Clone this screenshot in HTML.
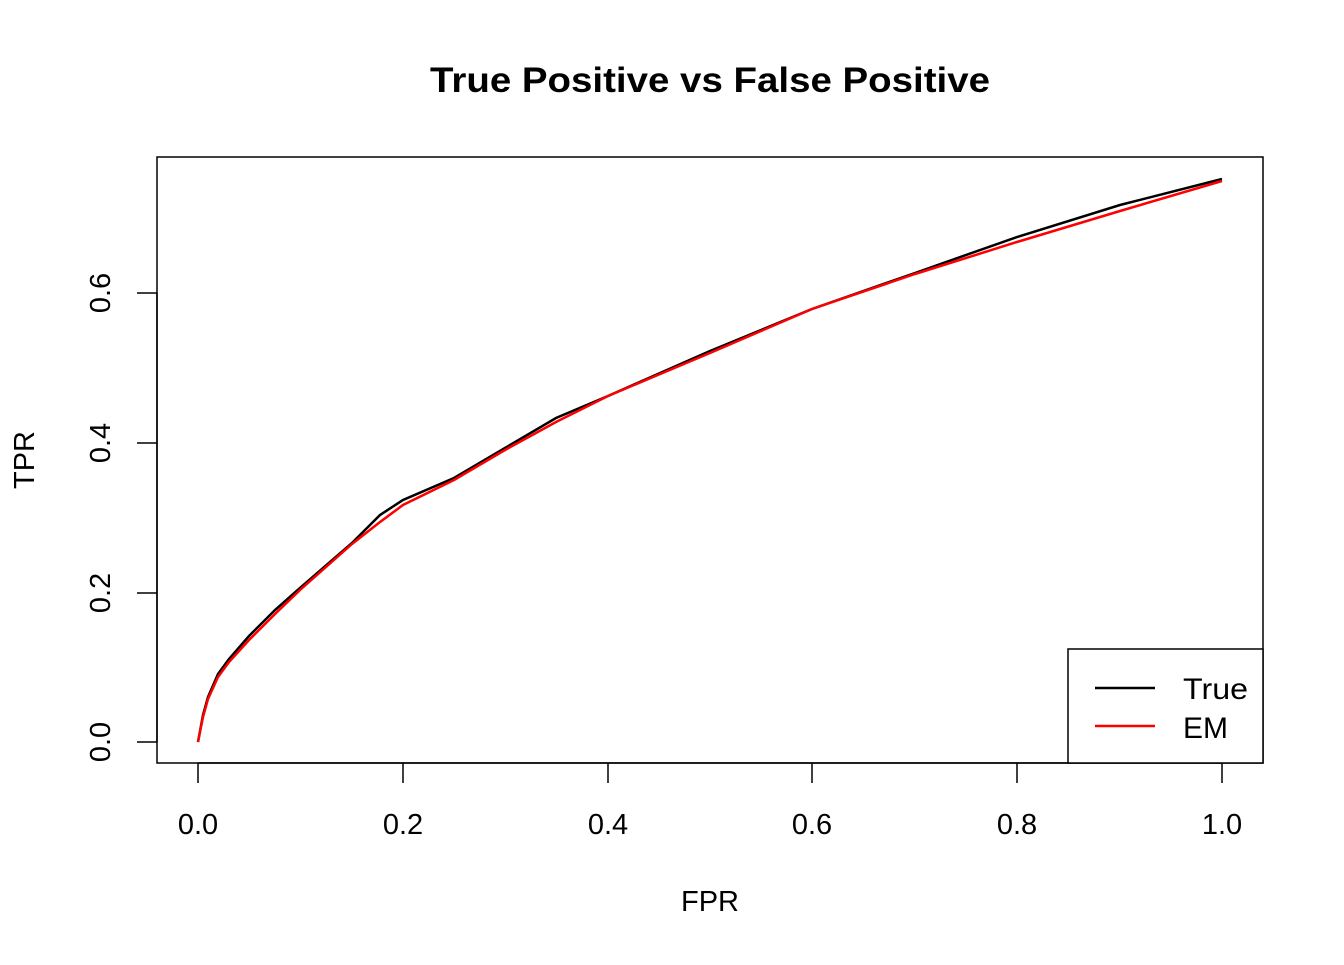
<!DOCTYPE html>
<html><head><style>body{margin:0;background:#fff}</style></head><body>
<svg width="1344" height="960" xmlns="http://www.w3.org/2000/svg" font-family="Liberation Sans, Arial, sans-serif">
<rect width="1344" height="960" fill="#fff"/>
<text x="710" y="92" font-size="35" font-weight="bold" text-anchor="middle" textLength="560" lengthAdjust="spacingAndGlyphs">True Positive vs False Positive</text>
<rect x="157" y="157" width="1106" height="606" fill="none" stroke="#000" stroke-width="1.5"/>
<g stroke="#000" stroke-width="1.5">
<line x1="198" y1="763" x2="1222" y2="763"/>
<line x1="198" y1="763" x2="198" y2="783"/><line x1="403" y1="763" x2="403" y2="783"/><line x1="608" y1="763" x2="608" y2="783"/><line x1="812" y1="763" x2="812" y2="783"/><line x1="1017" y1="763" x2="1017" y2="783"/><line x1="1222" y1="763" x2="1222" y2="783"/>
<line x1="157" y1="293" x2="157" y2="742"/>
<line x1="137" y1="742" x2="157" y2="742"/><line x1="137" y1="593" x2="157" y2="593"/><line x1="137" y1="443" x2="157" y2="443"/><line x1="137" y1="293" x2="157" y2="293"/>
</g>
<g font-size="29" text-anchor="middle">
<text x="198" y="834">0.0</text><text x="403" y="834">0.2</text><text x="608" y="834">0.4</text><text x="812" y="834">0.6</text><text x="1017" y="834">0.8</text><text x="1222" y="834">1.0</text>
<text x="710" y="911">FPR</text>
<text transform="translate(110,742) rotate(-90)">0.0</text>
<text transform="translate(110,593) rotate(-90)">0.2</text>
<text transform="translate(110,443) rotate(-90)">0.4</text>
<text transform="translate(110,293) rotate(-90)">0.6</text>
<text transform="translate(34,460) rotate(-90)">TPR</text>
</g>
<polyline fill="none" stroke="#000" stroke-width="2.5" points="198,742 203,715 208,697 218,674 229,659 249,636 275,610 300,588 352,543 380,515 403,500 454,478 505,448 556,418 608,396 710,351 812,309 915,273 1017,237 1120,205 1222,179"/>
<polyline fill="none" stroke="#f00" stroke-width="2.5" points="198,742 203,717 208,699 218,677 229,662 249,640 275,614 300,590 352,544 380,522 403,505 454,480 505,450 556,422 608,396 710,353 812,309 915,274 1017,242 1120,211 1222,181"/>
<rect x="1068" y="649" width="195" height="114" fill="#fff" stroke="#000" stroke-width="1.5"/>
<line x1="1095" y1="688" x2="1155" y2="688" stroke="#000" stroke-width="2.5"/>
<line x1="1095" y1="726" x2="1155" y2="726" stroke="#f00" stroke-width="2.5"/>
<text x="1183" y="699" font-size="30" textLength="65" lengthAdjust="spacingAndGlyphs">True</text>
<text x="1183" y="738" font-size="30">EM</text>
</svg>
</body></html>
